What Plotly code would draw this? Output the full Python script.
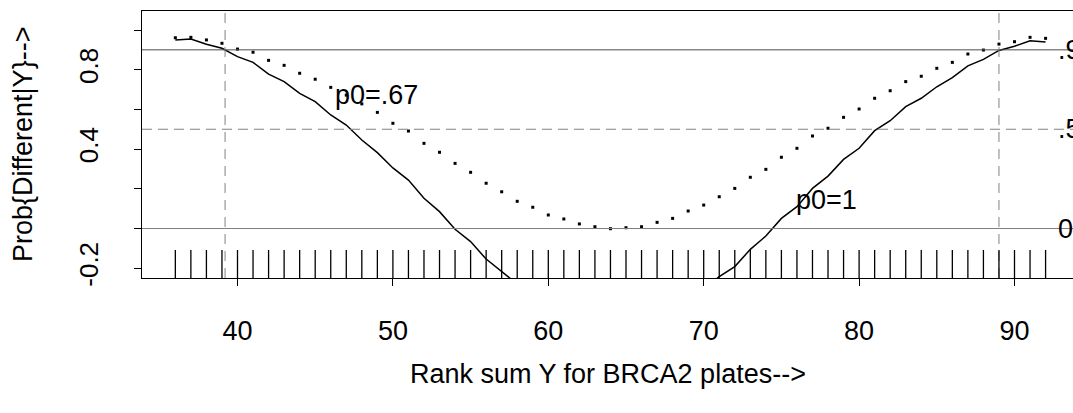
import plotly.graph_objects as go

# ---- data ----
rank_sum = [36, 37, 38, 39, 40, 41, 42, 43, 44, 45, 46, 47, 48, 49, 50, 51, 52, 53, 54,
            55, 56, 57, 58, 59, 60, 61, 62, 63, 64, 65, 66, 67, 68, 69, 70, 71, 72, 73,
            74, 75, 76, 77, 78, 79, 80, 81, 82, 83, 84, 85, 86, 87, 88, 89, 90, 91, 92]

prob_p0_1 = [0.950, 0.955, 0.928, 0.908, 0.866, 0.837, 0.778, 0.740, 0.681, 0.639,
             0.572, 0.521, 0.446, 0.382, 0.305, 0.244, 0.152, 0.085, -0.004, -0.066,
             -0.154, -0.218, -0.28, -0.36, -0.42, -0.48, -0.52, -0.55, -0.56, -0.55,
             -0.52, -0.47, -0.42, -0.36, -0.30, -0.243, -0.192, -0.105, -0.038, 0.051,
             0.110, 0.202, 0.264, 0.348, 0.404, 0.493, 0.543, 0.614, 0.656, 0.714,
             0.760, 0.819, 0.852, 0.897, 0.918, 0.946, 0.939]

prob_p0_067 = [0.961, 0.963, 0.950, 0.933, 0.904, 0.888, 0.847, 0.822, 0.782, 0.752,
               0.711, 0.672, 0.628, 0.585, 0.530, 0.491, 0.429, 0.384, 0.328, 0.283,
               0.228, 0.185, 0.137, 0.107, 0.068, 0.048, 0.023, 0.009, -0.001, 0.004,
               0.009, 0.031, 0.051, 0.088, 0.118, 0.160, 0.202, 0.258, 0.298, 0.359,
               0.404, 0.466, 0.505, 0.560, 0.602, 0.656, 0.694, 0.740, 0.767, 0.807,
               0.837, 0.879, 0.899, 0.929, 0.941, 0.963, 0.958]

rug_x = rank_sum

ref_solid_y = [0.0, 0.9]
ref_solid_colors = ["#7f7f7f", "#4d4d4d"]
ref_dashed_y = [0.5]
ref_dashed_x = [39.2, 89.0]
ref_labels = [".9", ".5", "0"]
ref_label_y = [0.9, 0.5, 0.0]
ref_label_x = 92.7

curve_labels = ["p0=.67", "p0=1"]
curve_label_x = [48.94, 77.87]
curve_label_y = [0.672, 0.142]

x_tickvals = [40, 50, 60, 70, 80, 90]
y_tickvals = [-0.2, 0.0, 0.2, 0.4, 0.6, 0.8, 1.0]
y_ticktext = ["-0.2", "", "", "0.4", "", "0.8", ""]

x_title = "Rank sum Y for BRCA2 plates-->"
y_title = "Prob{Different|Y}-->"

# ---- figure ----
W, H = 1073, 413
L, T, B = 142, 11, 278
FONT = "Liberation Sans, Arial, Helvetica, sans-serif"

fig = go.Figure()

fig.add_trace(go.Scatter(x=rank_sum, y=prob_p0_1, mode="lines",
                         line=dict(color="black", width=1.5), showlegend=False,
                         hoverinfo="skip", cliponaxis=True))
fig.add_trace(go.Scatter(x=rank_sum, y=prob_p0_067, mode="markers",
                         marker=dict(color="black", size=3, symbol="square",
                                     line=dict(width=0)),
                         showlegend=False, hoverinfo="skip"))

shapes = []
for yv, col in zip(ref_solid_y, ref_solid_colors):
    shapes.append(dict(type="line", xref="paper", yref="y", x0=0, x1=1, y0=yv, y1=yv,
                       line=dict(color=col, width=1)))
for yv in ref_dashed_y:
    shapes.append(dict(type="line", xref="paper", yref="y", x0=0, x1=1, y0=yv, y1=yv,
                       line=dict(color="#808080", width=1, dash="10px,6px")))
for xv in ref_dashed_x:
    shapes.append(dict(type="line", xref="x", yref="paper", x0=xv, x1=xv, y0=0, y1=1,
                       line=dict(color="#808080", width=1, dash="10px,7px")))
rug_h = 28 / (B - T)
for xv in rug_x:
    shapes.append(dict(type="line", xref="x", yref="paper", x0=xv, x1=xv, y0=0, y1=rug_h,
                       line=dict(color="black", width=1.3)))

annotations = []
for txt, xv, yv in zip(curve_labels, curve_label_x, curve_label_y):
    annotations.append(dict(x=xv, y=yv, xref="x", yref="y", text=txt, showarrow=False,
                            xanchor="center", yanchor="middle",
                            font=dict(family=FONT, size=27, color="black")))
for txt, yv in zip(ref_labels, ref_label_y):
    annotations.append(dict(x=ref_label_x, y=yv, xref="x", yref="y", text=txt,
                            showarrow=False, xanchor="left", yanchor="middle",
                            font=dict(family=FONT, size=27, color="black")))
plot_w = W - L
plot_h = B - T
annotations.append(dict(x=(608 - L) / plot_w, y=(B - 374) / plot_h, xref="paper",
                        yref="paper", text=x_title, showarrow=False,
                        xanchor="center", yanchor="middle",
                        font=dict(family=FONT, size=27, color="black")))
annotations.append(dict(x=(23 - L) / plot_w, y=(B - 145) / plot_h, xref="paper",
                        yref="paper", text=y_title, showarrow=False, textangle=-90,
                        xanchor="center", yanchor="middle",
                        font=dict(family=FONT, size=27, color="black")))

px_per_x = 15.54
x0_px = 237.5
x_lo = 40 - (x0_px - L) / px_per_x
x_hi = 40 + (W - x0_px) / px_per_x
px_per_y = 198.5
y0_px = 228.5
y_lo = -(B - y0_px) / px_per_y
y_hi = (y0_px - T) / px_per_y

fig.update_layout(
    width=W, height=H,
    margin=dict(l=L, r=0, t=T, b=H - B, pad=0, autoexpand=False),
    paper_bgcolor="white", plot_bgcolor="white",
    shapes=shapes, annotations=annotations,
    xaxis=dict(range=[x_lo, x_hi], tickmode="array", tickvals=x_tickvals,
               showgrid=False, zeroline=False, showline=True, linecolor="black",
               linewidth=1.3, mirror=True, ticks="outside", ticklen=7, tickwidth=1.2,
               tickcolor="black", ticklabelstandoff=21, automargin=False,
               tickfont=dict(family=FONT, size=27, color="black")),
    yaxis=dict(range=[y_lo, y_hi], tickmode="array", tickvals=y_tickvals,
               ticktext=y_ticktext, showgrid=False, zeroline=False, showline=True,
               linecolor="black", linewidth=1.3, mirror=False, ticks="outside",
               ticklen=7, tickwidth=1.2, tickcolor="black", tickangle=-90,
               ticklabelstandoff=25, automargin=False,
               tickfont=dict(family=FONT, size=26, color="black")),
)

fig.write_html("out.html", config={"displayModeBar": False},
               post_script="document.body.style.margin='0';document.body.style.overflow='hidden';")
